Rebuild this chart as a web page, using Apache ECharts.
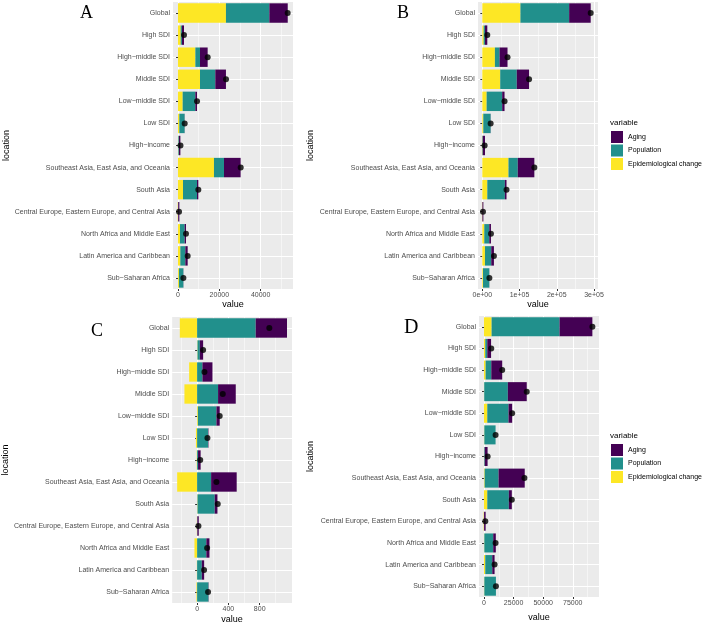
<!DOCTYPE html>
<html>
<head>
<meta charset="utf-8">
<title>Decomposition</title>
<script src="https://cdn.jsdelivr.net/npm/echarts@6/dist/echarts.min.js"></script>
<style>
  html, body { margin: 0; padding: 0; background: #fff; }
  #main { width: 702px; height: 625px; }
</style>
</head>
<body>
<div id="main"></div>
<script>
var locations = ['Global', 'High SDI', 'High\u2212middle SDI', 'Middle SDI', 'Low\u2212middle SDI', 'Low SDI',
  'High\u2212income', 'Southeast Asia, East Asia, and Oceania', 'South Asia',
  'Central Europe, Eastern Europe, and Central Asia', 'North Africa and Middle East',
  'Latin America and Caribbean', 'Sub\u2212Saharan Africa'];

// panel A
var epiA = [23200, 1300, 8400, 10650, 2260, 650, 150, 17400, 2420, -150, 970, 1130, 450];
var popA = [21000, 600, 2250, 7400, 6130, 2550, 300, 4850, 6770, 100, 2260, 2420, 2150];
var agingA = [8900, 1000, 3700, 5150, 800, 50, 700, 8050, 650, 550, 640, 1130, 50];
var totalA = [53070, 2900, 14350, 23230, 9200, 3230, 1200, 30330, 9840, 500, 3870, 4680, 2600];
// panel B
var epiB = [102400, 3600, 33800, 48100, 11600, 2700, -1000, 70300, 13400, -1000, 5300, 7100, 1800];
var popB = [130900, 3500, 12500, 44500, 41800, 19600, 1200, 25000, 47200, 300, 13400, 16900, 17000];
var agingB = [57900, 6300, 21400, 33000, 6300, 300, 6000, 44500, 4400, 2500, 4500, 7200, 200];
var totalB = [291200, 13400, 67700, 125600, 59700, 22300, 6200, 139800, 65000, 1800, 23200, 31200, 19000];
// panel C
var epiC = [-221, 5, -102, -162, 10, -15, -5, -255, 5, -3, -34, -3, -8];
var popC = [749, 30, 68, 268, 237, 140, 12, 179, 220, 3, 118, 60, 145];
var agingC = [400, 42, 128, 226, 42, 5, 33, 327, 35, 18, 40, 30, 3];
var totalC = [923, 77, 94, 328, 289, 132, 40, 247, 264, 17, 128, 89, 140];
// panel D
var epiD = [6440, 1100, 1400, 200, 2800, 300, 150, 560, 2800, -300, 300, 1100, 300];
var popD = [57400, 1700, 4760, 19960, 17920, 9500, 500, 11760, 18200, 100, 7500, 5900, 9800];
var agingD = [27700, 3200, 9240, 15960, 3080, 0, 2400, 22100, 2520, 1300, 2200, 1960, 0];
var totalD = [91560, 6160, 15400, 36120, 23800, 9800, 3080, 34160, 23520, 1120, 9800, 8960, 10080];

// ticks and axis ranges
var majorTicks = [[0, 20000, 40000], [0, 100000, 200000, 300000], [0, 400, 800], [0, 25000, 50000, 75000]];
var minorTicks = [[10000, 30000, 50000], [50000, 150000, 250000], [-200, 200, 600, 1000], [12500, 37500, 62500, 87500]];
var xMin = [-2420, -11600, -319, -4200];
var xMax = [55645, 310800, 1213, 97140];

var varNames = ['Aging', 'Population', 'Epidemiological change'];
var colors = { 'Aging': '#440154', 'Population': '#21908C', 'Epidemiological change': '#FDE725' };

var panels = [
  { epi: epiA, pop: popA, aging: agingA, total: totalA },
  { epi: epiB, pop: popB, aging: agingB, total: totalB },
  { epi: epiC, pop: popC, aging: agingC, total: totalC },
  { epi: epiD, pop: popD, aging: agingD, total: totalD }
];

var FONT = 'Liberation Sans';
var grids = [
  { left: 173, top: 2, width: 120, height: 287 },
  { left: 478, top: 2, width: 120, height: 287 },
  { left: 172, top: 317, width: 120, height: 288 },
  { left: 479, top: 316, width: 120, height: 281 }
];
var valueGap = [10, 10, 12, 16];
var locGap = [162, 163, 162, 164];
// horizontal grid lines sit on the category centres
var rowCentres = locations.map(function (d, k) { return k + 0.5; });

function fmt(i) {
  return function (v) {
    if (i === 1) return v === 0 ? '0e+00' : (v / 100000) + 'e+05';
    return String(v);
  };
}

var xAxes = [], yAxes = [], series = [];
grids.forEach(function (g, i) {
  g.show = true;
  g.backgroundColor = '#EBEBEB';
  g.borderWidth = 0;
  // minor grid lines (hidden axis)
  xAxes.push({
    type: 'value', gridIndex: i, position: 'top', min: xMin[i], max: xMax[i],
    axisLine: { show: false }, axisLabel: { show: false },
    axisTick: { show: false, customValues: minorTicks[i] },
    splitLine: { show: true, customValues: minorTicks[i], lineStyle: { color: '#fff', width: 0.5 } }
  });
});
grids.forEach(function (g, i) {
  xAxes.push({
    type: 'value', gridIndex: i, position: 'bottom', min: xMin[i], max: xMax[i],
    name: 'value', nameLocation: 'middle', nameGap: valueGap[i],
    nameTextStyle: { fontFamily: FONT, fontSize: 9, color: '#000' },
    axisLine: { show: false },
    axisTick: { show: true, length: 2, customValues: majorTicks[i], lineStyle: { color: '#333' } },
    axisLabel: { customValues: majorTicks[i], fontFamily: FONT, fontSize: 7, color: '#4D4D4D', margin: 3, formatter: fmt(i) },
    splitLine: { show: true, customValues: majorTicks[i], lineStyle: { color: '#fff', width: 1 } }
  });
  yAxes.push({
    type: 'category', gridIndex: i, data: locations, inverse: true,
    name: 'location', nameLocation: 'middle', nameGap: locGap[i], nameRotate: 90,
    nameTextStyle: { fontFamily: FONT, fontSize: 9, color: '#000' },
    axisLine: { show: false },
    axisTick: { show: true, length: 2, alignWithLabel: true, lineStyle: { color: '#333' } },
    axisLabel: { fontFamily: FONT, fontSize: 7, color: '#4D4D4D', margin: 3, interval: 0 },
    splitLine: { show: false }
  });
  var p = panels[i];
  var parts = [['Epidemiological change', p.epi], ['Population', p.pop], ['Aging', p.aging]];
  parts.forEach(function (pt) {
    series.push({
      name: pt[0], type: 'bar', stack: 'p' + i,
      xAxisIndex: 4 + i, yAxisIndex: i,
      barCategoryGap: '12%',
      itemStyle: { color: colors[pt[0]] },
      data: pt[1]
    });
  });
  series.push({
    name: 'total', type: 'scatter', xAxisIndex: 4 + i, yAxisIndex: i,
    symbolSize: 6, itemStyle: { color: '#000' }, z: 5,
    data: p.total.map(function (v, k) { return [v, k]; })
  });
});
grids.forEach(function (g, i) {
  yAxes.push({
    type: 'value', gridIndex: i, position: 'right', min: 0, max: locations.length,
    axisLine: { show: false }, axisLabel: { show: false },
    axisTick: { show: false, customValues: rowCentres },
    splitLine: { show: true, customValues: rowCentres, lineStyle: { color: '#fff', width: 1 } }
  });
});

function legendAt(top) {
  return {
    orient: 'vertical', left: 611, top: top, padding: 0, itemWidth: 12, itemHeight: 12, itemGap: 1.5,
    icon: 'rect', selectedMode: false,
    textStyle: { fontFamily: FONT, fontSize: 7, color: '#000' },
    data: varNames
  };
}

function letter(t, x, y, size) {
  return { type: 'text', left: x, top: y,
    style: { text: t, font: size + 'px "Liberation Serif"', fill: '#000' } };
}

var option = {
  animation: false,
  grid: grids,
  xAxis: xAxes,
  yAxis: yAxes,
  legend: [legendAt(131), legendAt(444)],
  graphic: [
    letter('A', 80, 4, 18), letter('B', 397, 4, 18),
    letter('C', 91, 322, 18), letter('D', 404, 318, 20),
    { type: 'text', left: 610, top: 119, style: { text: 'variable', font: '8px "Liberation Sans"', fill: '#000' } },
    { type: 'text', left: 610, top: 432, style: { text: 'variable', font: '8px "Liberation Sans"', fill: '#000' } }
  ],
  series: series
};

var myChart = echarts.init(document.getElementById('main'));
myChart.setOption(option);
</script>
</body>
</html>
